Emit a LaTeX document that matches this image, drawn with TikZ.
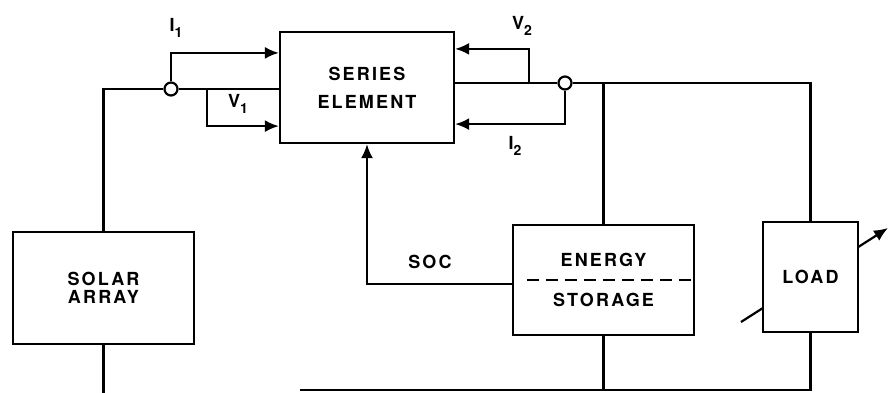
\documentclass[tikz,border=0pt]{standalone}
\usepackage{fontspec}
\setmainfont{TeX Gyre Heros}[LetterSpace=12]
\usetikzlibrary{arrows.meta}

\tikzset{
  bloc/.style={draw,line width=2.2pt,align=center,inner sep=0pt,font=\bfseries\fontsize{18}{21}\selectfont},
  noeud/.style={circle,draw,fill=white,line width=2.2pt,minimum size=13pt,inner sep=0pt},
  lbl/.style={font=\bfseries\fontsize{18}{21}\selectfont},
}
\newcommand{\ind}[1]{\raisebox{-6pt}{\fontsize{14}{14}\selectfont #1}}

\begin{document}
\begin{tikzpicture}[x=1pt,y=-1pt,line width=2.2pt,>={Latex[length=14pt,width=12pt]}]
\useasboundingbox (0,0) rectangle (889,393);

% Flèche de la charge variable
\draw[->] (741,322) -- (888,228);

% Blocs
\node[bloc,minimum width=174pt,minimum height=111pt] (serie) at (367,87.5) {SERIES\\[7pt]ELEMENT};
\node[bloc,minimum width=181pt,minimum height=112pt] (solar) at (103.5,288) {SOLAR\\[-3pt]ARRAY};
\node[bloc,minimum width=181pt,minimum height=110pt] (storage) at (603.5,280) {ENERGY\\[19pt]STORAGE};
\node[bloc,fill=white,minimum width=95pt,minimum height=110pt] (load) at (810.5,277) {LOAD};

% Points de mesure
\node[noeud] (c1) at (171,89) {};
\node[noeud] (c2) at (565,83) {};
\coordinate (v1) at (207,89);
\coordinate (v2) at (529,83);
\coordinate (masse) at (300,390);
\coordinate (bas) at (103.5,393);

% Côté panneau
\draw (solar.north) |- (c1);
\draw (c1) -- (c1 -| serie.west);
\draw[->] (c1.north) |- ([yshift=-22pt]serie.north west);
\draw[->] (v1) |- ([yshift=18pt]serie.south west);
\draw (solar.south) -- (bas);

% Côté charge
\draw (serie.east |- c2) -- (c2);
\draw[->] (v2) |- ([yshift=-18pt]serie.north east);
\draw[->] (c2.south) |- ([yshift=20pt]serie.south east);
\draw (c2) -| (load.north);
\draw (storage.north) -- (storage.north |- c2);
\draw[->] ([yshift=-4pt]storage.west) -| (serie.south);

% Retour
\draw (masse) -| (load.south);
\draw (storage.south) -- (storage.south |- masse);

% Séparation de la batterie
\draw[dash pattern=on 12pt off 7pt] ([xshift=15pt]storage.west) -- ([xshift=-3pt]storage.east);

% Étiquettes
\node[lbl] at (176,28) {I\ind{1}};
\node[lbl] at (238,104) {V\ind{1}};
\node[lbl] at (522,26) {V\ind{2}};
\node[lbl] at (515,146) {I\ind{2}};
\node[lbl] at (430,262) {SOC};

\end{tikzpicture}
\end{document}
